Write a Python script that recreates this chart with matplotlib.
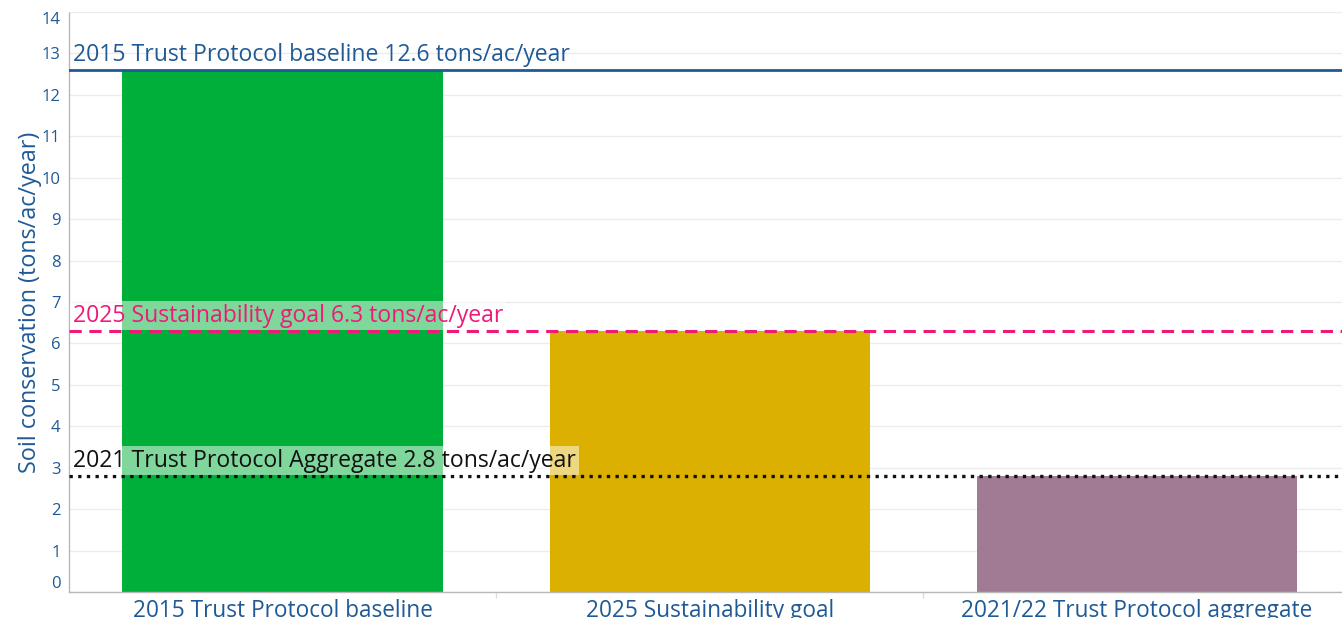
import matplotlib
matplotlib.use("Agg")
import matplotlib.pyplot as plt
from matplotlib.ticker import FixedLocator

categories = ["2015 Trust Protocol baseline", "2025 Sustainability goal", "2021/22 Trust Protocol aggregate"]
values = [12.6, 6.3, 2.8]
bar_colors = ["#00af3a", "#dbb000", "#a17b93"]

ref_values = [12.6, 6.3, 2.8]
ref_labels = ["2015 Trust Protocol baseline 12.6 tons/ac/year",
              "2025 Sustainability goal 6.3 tons/ac/year",
              "2021 Trust Protocol Aggregate 2.8 tons/ac/year"]
ref_colors = ["#1f5a96", "#ef1a78", "#111111"]
ref_styles = ["-", (0, (4, 2.5)), (0, (1, 1.6))]
ref_widths = [2.0, 2.2, 2.4]
ref_boxes = [False, True, True]

yticks = list(range(0, 15))
BLUE = "#1f5a96"

plt.rcParams['font.family'] = ['Open Sans', 'DejaVu Sans']

fig = plt.figure(figsize=(13.42, 6.18), dpi=100)
ax = fig.add_axes([69/1342, 26/618, 1273/1342, 580/618])

x = list(range(len(categories)))
ax.bar(x, values, width=0.75, color=bar_colors, zorder=2)

ax.set_xlim(-0.5, 2.48)
ax.set_ylim(0, 14)
ax.set_yticks(yticks)
ax.set_yticklabels([str(t) for t in yticks])
ax.yaxis.grid(True, color="#ececec", linewidth=1, zorder=0)
ax.set_axisbelow(True)
ax.tick_params(axis='y', length=0, pad=6, labelcolor=BLUE, labelsize=12)
ax.set_xticks(x)
ax.set_xticklabels(categories)
ax.tick_params(axis='x', length=0, pad=5, labelcolor=BLUE, labelsize=16.3)
ax.xaxis.set_minor_locator(FixedLocator([0.5, 1.5]))
ax.tick_params(axis='x', which='minor', length=4, color="#dddddd", width=1)

labs = ax.get_yticklabels()
labs[0].set_va('bottom')
labs[-1].set_va('top')

for s in ['top', 'right']:
    ax.spines[s].set_visible(False)
for s in ['left', 'bottom']:
    ax.spines[s].set_color("#b8b8b8")
    ax.spines[s].set_linestyle((0, (1, 1)))
    ax.spines[s].set_linewidth(1)

ax.set_ylabel("Soil conservation (tons/ac/year)", color=BLUE, fontsize=16.8, va='center')
ax.yaxis.set_label_coords(-0.0306, 0.5)

for v, lab, c, ls, lw, box in zip(ref_values, ref_labels, ref_colors, ref_styles, ref_widths, ref_boxes):
    ax.axhline(v, color=c, linestyle=ls, linewidth=lw, zorder=3)
    kw = {}
    if box:
        kw['bbox'] = dict(boxstyle="square,pad=0.12", facecolor="white", alpha=0.5, edgecolor="none")
    ax.annotate(lab, xy=(0, v), xycoords=('axes fraction', 'data'),
                xytext=(3, 2.5), textcoords='offset points',
                ha='left', va='bottom', color=c, fontsize=16.6, zorder=4, **kw)

fig.savefig("out.png", dpi=100)
